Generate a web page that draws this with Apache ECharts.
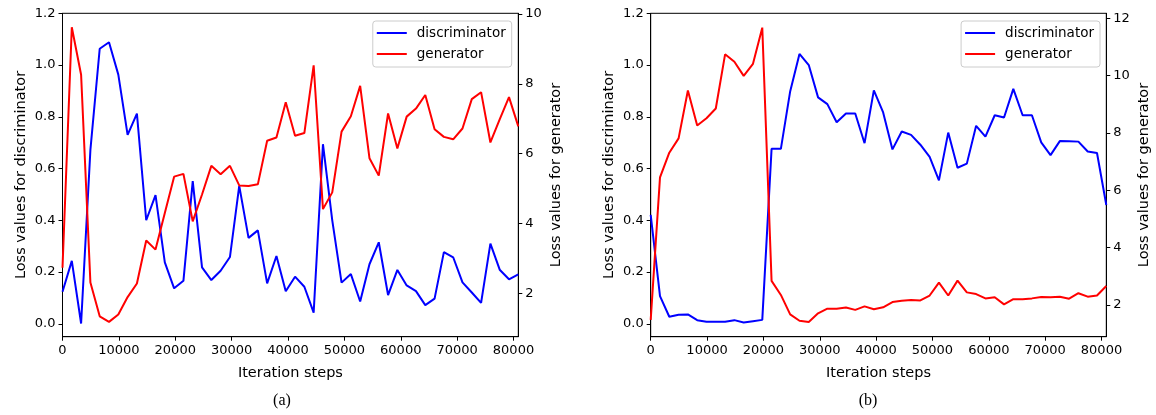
<!DOCTYPE html>
<html>
<head>
<meta charset="utf-8">
<script src="https://cdn.jsdelivr.net/npm/echarts@6/dist/echarts.min.js"></script>
<style>
html,body{margin:0;padding:0;background:#fff;}
#chart{width:1156px;height:415px;}
</style>
</head>
<body>
<div id="chart"></div>
<script>
// Iteration steps (x values), shared by both panels
var steps = [0,1650,3300,4950,6600,8250,9900,11550,13200,14850,16500,18150,19800,21450,23100,24750,26400,28050,29700,31350,33000,34650,36300,37950,39600,41250,42900,44550,46200,47850,49500,51150,52800,54450,56100,57750,59400,61050,62700,64350,66000,67650,69300,70950,72600,74250,75900,77550,79200,80850];

// Panel (a)
var discA = [0.124,0.243,0.001,0.672,1.063,1.088,0.963,0.730,0.812,0.400,0.497,0.237,0.137,0.166,0.551,0.218,0.169,0.205,0.258,0.533,0.332,0.361,0.156,0.262,0.126,0.182,0.143,0.043,0.694,0.400,0.159,0.192,0.086,0.230,0.315,0.111,0.208,0.148,0.126,0.072,0.097,0.277,0.257,0.160,0.121,0.081,0.310,0.209,0.172,0.191];
var genA = [2.73,9.62,8.26,2.31,1.34,1.18,1.39,1.89,2.28,3.51,3.25,4.30,5.34,5.42,4.06,4.83,5.65,5.41,5.65,5.09,5.07,5.12,6.37,6.46,7.47,6.51,6.59,8.53,4.41,4.89,6.63,7.07,7.94,5.87,5.37,7.15,6.15,7.06,7.29,7.68,6.70,6.48,6.41,6.72,7.56,7.76,6.32,6.98,7.62,6.78];

// Panel (b)
var discB = [0.421,0.107,0.027,0.035,0.036,0.014,0.008,0.008,0.008,0.014,0.005,0.010,0.015,0.676,0.676,0.898,1.043,1.000,0.875,0.849,0.779,0.813,0.813,0.698,0.902,0.817,0.674,0.743,0.730,0.692,0.645,0.554,0.739,0.603,0.619,0.765,0.723,0.806,0.797,0.908,0.806,0.806,0.701,0.652,0.706,0.705,0.704,0.666,0.660,0.459];
var genB = [1.48,6.45,7.31,7.81,9.48,8.26,8.51,8.85,10.74,10.48,9.99,10.41,11.67,2.84,2.35,1.67,1.45,1.41,1.71,1.87,1.87,1.91,1.83,1.95,1.85,1.92,2.10,2.15,2.17,2.16,2.33,2.78,2.33,2.85,2.44,2.38,2.23,2.27,2.02,2.20,2.20,2.23,2.28,2.27,2.29,2.22,2.41,2.29,2.33,2.66];

// Tick labels
var xTicks = [0,10000,20000,30000,40000,50000,60000,70000,80000];
var discTicks = [0.0,0.2,0.4,0.6,0.8,1.0,1.2];
var genTicksA = [2,4,6,8,10];
var genTicksB = [2,4,6,8,10,12];

var seriesNames = ['discriminator','generator'];
var panelLabels = ['(a)','(b)'];

function pairs(xs, ys){ return xs.map(function(x,i){ return [x, ys[i]]; }); }

var FONT = 'DejaVu Sans';
var tickLabel = {color:'#000', fontFamily:FONT, fontSize:13};

function xAxisDef(idx){
  return {
    type:'value', gridIndex:idx, min:0, max:80850,
    name:'Iteration steps', nameLocation:'middle', nameGap:29,
    nameTextStyle:{color:'#000', fontFamily:FONT, fontSize:14.5},
    axisLine:{show:true, onZero:false, lineStyle:{color:'#000', width:1}},
    axisTick:{show:true, length:4, customValues:xTicks, lineStyle:{color:'#000'}},
    axisLabel:Object.assign({margin:7, customValues:xTicks, formatter:function(v){return String(v);}}, tickLabel),
    splitLine:{show:false}
  };
}
function yDiscDef(idx){
  return {
    type:'value', gridIndex:idx, position:'left', min:-0.05, max:1.2,
    name:'Loss values for discriminator', nameLocation:'middle', nameGap:34,
    nameTextStyle:{color:'#000', fontFamily:FONT, fontSize:14.5},
    axisLine:{show:true, onZero:false, lineStyle:{color:'#000', width:1}},
    axisTick:{show:true, length:4, customValues:discTicks, lineStyle:{color:'#000'}},
    axisLabel:Object.assign({margin:7, customValues:discTicks, formatter:function(v){return v.toFixed(1);}}, tickLabel),
    splitLine:{show:false}
  };
}
function yGenDef(idx, mn, mx, ticks){
  return {
    type:'value', gridIndex:idx, position:'right', min:mn, max:mx,
    name:'Loss values for generator', nameLocation:'middle', nameGap:30,
    nameTextStyle:{color:'#000', fontFamily:FONT, fontSize:14.5},
    axisLine:{show:true, onZero:false, lineStyle:{color:'#000', width:1}},
    axisTick:{show:true, length:4, customValues:ticks, lineStyle:{color:'#000'}},
    axisLabel:Object.assign({margin:7, customValues:ticks, formatter:function(v){return String(v);}}, tickLabel),
    splitLine:{show:false}
  };
}
function legendDef(right){
  return {
    orient:'vertical', right:right, top:21,
    data:seriesNames,
    icon:'rect',
    itemWidth:30, itemHeight:2, itemGap:5,
    padding:[4,6,5,4],
    backgroundColor:'#fff', borderColor:'#cccccc', borderWidth:1, borderRadius:3,
    textStyle:{color:'#000', fontFamily:FONT, fontSize:13.5, lineHeight:16, padding:[0,0,0,5]},
    selectedMode:false
  };
}
function lineSeries(name, xi, yi, data, color){
  return {
    type:'line', name:name, xAxisIndex:xi, yAxisIndex:yi, data:data,
    symbol:'none', showSymbol:false, animation:false,
    lineStyle:{color:color, width:2}, itemStyle:{color:color}
  };
}

var chart = echarts.init(document.getElementById('chart'), null, {renderer:'canvas'});
chart.setOption({
  animation:false,
  backgroundColor:'#fff',
  grid:[
    {left:62.5, top:13.3, width:455.8, height:323.4, show:true, borderColor:'#000', borderWidth:1, backgroundColor:'transparent'},
    {left:650.7, top:13.3, width:455.6, height:323.4, show:true, borderColor:'#000', borderWidth:1, backgroundColor:'transparent'}
  ],
  xAxis:[xAxisDef(0), xAxisDef(1)],
  yAxis:[yDiscDef(0), yGenDef(0, 0.755, 10.02, genTicksA), yDiscDef(1), yGenDef(1, 0.894, 12.17, genTicksB)],
  legend:[legendDef(644.3), legendDef(56)],
  series:[
    lineSeries(seriesNames[0], 0, 0, pairs(steps, discA), '#0000ff'),
    lineSeries(seriesNames[1], 0, 1, pairs(steps, genA), '#ff0000'),
    lineSeries(seriesNames[0], 1, 2, pairs(steps, discB), '#0000ff'),
    lineSeries(seriesNames[1], 1, 3, pairs(steps, genB), '#ff0000')
  ],
  graphic:[
    {type:'text', x:282, y:401, style:{text:panelLabels[0], fill:'#000', font:'16px "Liberation Serif"', textAlign:'center', textVerticalAlign:'middle'}},
    {type:'text', x:868, y:401, style:{text:panelLabels[1], fill:'#000', font:'16px "Liberation Serif"', textAlign:'center', textVerticalAlign:'middle'}}
  ]
});
</script>
</body>
</html>
